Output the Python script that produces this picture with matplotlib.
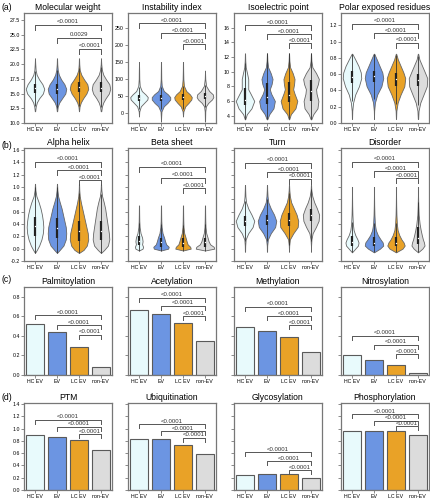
import numpy as np
import matplotlib
matplotlib.use("Agg")
import matplotlib.pyplot as plt
from matplotlib.ticker import FormatStrFormatter

plt.rcParams["font.family"] = ["Liberation Sans", "DejaVu Sans"]
plt.rcParams["axes.unicode_minus"] = False

groups = ["HC EV", "EV", "LC EV", "non-EV"]
colors = ["#E8FAFC", "#6C95E2", "#E9A227", "#DCDCDC"]

# =========================================================
# (a) violin profiles: y levels + relative half widths
# =========================================================
mw_y = [12.0, 12.8, 13.5, 14.2, 15.0, 15.8, 16.6, 17.4, 18.2, 19.0, 20.0, 21.0]
mw_w = [
    [0.02, 0.08, 0.2, 0.45, 0.85, 1.0, 0.8, 0.45, 0.18, 0.07, 0.03, 0.0],
    [0.02, 0.08, 0.25, 0.55, 0.9, 1.0, 0.8, 0.45, 0.2, 0.08, 0.03, 0.01],
    [0.01, 0.06, 0.2, 0.45, 0.8, 1.0, 0.9, 0.55, 0.25, 0.08, 0.03, 0.01],
    [0.03, 0.1, 0.25, 0.5, 0.85, 1.0, 0.9, 0.55, 0.25, 0.1, 0.03, 0.0],
]
mw_box = [(15.1, 15.9, 16.6), (15.0, 15.8, 16.6), (15.3, 16.1, 16.9), (15.2, 16.0, 16.9)]

ii_y = [-25, -10, 5, 20, 30, 40, 47, 55, 65, 80, 100, 125, 150]
ii_w = [
    [0.0, 0.0, 0.03, 0.2, 0.55, 0.9, 0.95, 0.7, 0.3, 0.08, 0.03, 0.02, 0.0],
    [0.0, 0.02, 0.05, 0.3, 0.7, 1.0, 1.0, 0.75, 0.3, 0.08, 0.03, 0.02, 0.01],
    [0.0, 0.0, 0.04, 0.25, 0.6, 0.9, 0.95, 0.75, 0.35, 0.1, 0.04, 0.02, 0.01],
    [0.01, 0.02, 0.03, 0.1, 0.35, 0.75, 0.9, 0.85, 0.45, 0.12, 0.03, 0.0, 0.0],
]
ii_box = [(36, 44, 52), (37, 45, 53), (38, 46, 55), (42, 50, 58)]

pi_y = [3.5, 4.2, 5.0, 6.0, 7.0, 7.6, 8.3, 9.0, 9.8, 10.6, 11.5, 12.5]
pi_w = [
    [0.02, 0.2, 0.7, 1.0, 0.6, 0.35, 0.35, 0.35, 0.22, 0.08, 0.03, 0.01],
    [0.03, 0.25, 0.7, 0.85, 0.45, 0.3, 0.5, 0.6, 0.4, 0.12, 0.04, 0.01],
    [0.02, 0.2, 0.7, 0.9, 0.6, 0.45, 0.55, 0.6, 0.4, 0.12, 0.04, 0.01],
    [0.03, 0.25, 0.7, 0.8, 0.6, 0.55, 0.75, 0.85, 0.55, 0.15, 0.04, 0.01],
]
pi_box = [(5.5, 6.2, 7.8), (5.6, 6.5, 8.4), (5.8, 6.8, 8.6), (6.0, 7.4, 8.8)]

pe_y = [0.05, 0.15, 0.25, 0.35, 0.45, 0.55, 0.62, 0.7, 0.78, 0.85]
pe_w = [
    [0.01, 0.03, 0.12, 0.35, 0.75, 1.0, 0.95, 0.7, 0.35, 0.03],
    [0.0, 0.02, 0.1, 0.35, 0.8, 1.0, 0.9, 0.6, 0.3, 0.03],
    [0.01, 0.04, 0.18, 0.5, 0.9, 1.0, 0.8, 0.5, 0.2, 0.02],
    [0.02, 0.06, 0.25, 0.6, 0.95, 1.0, 0.75, 0.45, 0.15, 0.02],
]
pe_box = [(0.49, 0.57, 0.64), (0.50, 0.58, 0.64), (0.46, 0.54, 0.61), (0.45, 0.53, 0.60)]

# =========================================================
# (b) secondary structure
# =========================================================
ah_y = [-0.07, -0.02, 0.05, 0.15, 0.25, 0.35, 0.45, 0.55, 0.65, 0.75, 0.85, 0.95, 1.05]
ah_w = [
    [0.0, 0.2, 0.45, 0.7, 0.85, 0.9, 0.85, 0.75, 0.6, 0.4, 0.15, 0.04, 0.01],
    [0.0, 0.3, 0.7, 0.95, 1.0, 0.95, 0.8, 0.65, 0.5, 0.3, 0.12, 0.04, 0.01],
    [0.0, 0.5, 0.85, 1.0, 0.95, 0.8, 0.65, 0.5, 0.35, 0.2, 0.08, 0.03, 0.01],
    [0.0, 0.35, 0.75, 0.9, 0.85, 0.75, 0.65, 0.55, 0.45, 0.3, 0.12, 0.04, 0.01],
]
ah_box = [(0.20, 0.36, 0.52), (0.17, 0.33, 0.50), (0.13, 0.28, 0.44), (0.14, 0.28, 0.44)]

bs_y = [-0.03, 0.0, 0.03, 0.07, 0.12, 0.18, 0.25, 0.35, 0.45, 0.55, 0.7]
bs_w = [
    [0.0, 0.35, 0.4, 0.3, 0.35, 0.3, 0.15, 0.06, 0.03, 0.02, 0.01],
    [0.0, 0.7, 0.75, 0.5, 0.4, 0.3, 0.15, 0.06, 0.03, 0.02, 0.01],
    [0.0, 0.75, 0.7, 0.45, 0.35, 0.25, 0.12, 0.05, 0.03, 0.02, 0.01],
    [0.0, 0.9, 0.85, 0.5, 0.35, 0.25, 0.12, 0.05, 0.03, 0.02, 0.01],
]
bs_box = [(0.06, 0.13, 0.20), (0.03, 0.10, 0.18), (0.03, 0.09, 0.17), (0.03, 0.10, 0.18)]

tu_y = [-0.05, 0.05, 0.15, 0.25, 0.35, 0.45, 0.55, 0.65, 0.75, 0.85, 0.95, 1.03]
tu_w = [
    [0.01, 0.02, 0.06, 0.3, 0.7, 0.85, 0.6, 0.3, 0.1, 0.04, 0.02, 0.01],
    [0.01, 0.02, 0.08, 0.35, 0.75, 0.85, 0.65, 0.35, 0.12, 0.05, 0.02, 0.01],
    [0.0, 0.02, 0.08, 0.4, 0.8, 0.85, 0.7, 0.45, 0.2, 0.08, 0.03, 0.01],
    [0.0, 0.01, 0.04, 0.15, 0.45, 0.7, 0.75, 0.55, 0.3, 0.12, 0.03, 0.01],
]
tu_box = [(0.37, 0.45, 0.53), (0.38, 0.46, 0.55), (0.37, 0.47, 0.58), (0.44, 0.54, 0.65)]

di_y = [-0.06, 0.0, 0.05, 0.1, 0.15, 0.22, 0.3, 0.4, 0.55, 0.7, 0.85, 1.0]
di_w = [
    [0.0, 0.3, 0.55, 0.6, 0.5, 0.3, 0.15, 0.08, 0.04, 0.02, 0.01, 0.01],
    [0.0, 0.55, 0.85, 0.8, 0.6, 0.35, 0.17, 0.08, 0.04, 0.02, 0.01, 0.01],
    [0.0, 0.6, 0.8, 0.7, 0.5, 0.3, 0.15, 0.08, 0.04, 0.02, 0.01, 0.01],
    [0.0, 0.4, 0.6, 0.55, 0.45, 0.35, 0.25, 0.15, 0.06, 0.03, 0.01, 0.01],
]
di_box = [(0.05, 0.10, 0.20), (0.04, 0.09, 0.19), (0.04, 0.09, 0.19), (0.08, 0.18, 0.35)]

# =========================================================
# (c), (d) bar values
# =========================================================
palmitoylation = [0.52, 0.44, 0.29, 0.08]
acetylation = [0.66, 0.62, 0.535, 0.345]
methylation = [0.487, 0.45, 0.39, 0.24]
nitrosylation = [0.20, 0.155, 0.10, 0.025]
ptm = [0.905, 0.86, 0.81, 0.65]
ubiquitination = [0.84, 0.835, 0.73, 0.58]
glycosylation = [0.25, 0.26, 0.265, 0.20]
phosphorylation = [0.965, 0.97, 0.955, 0.905]

# significance brackets (heights, labels), comparisons vs non-EV
pairs = [(0, 3), (1, 3), (2, 3)]
p_all = ["<0.0001", "<0.0001", "<0.0001"]
p_mw = ["<0.0001", "0.0029", "<0.0001"]

br_mw = [26.7, 24.5, 22.6]
br_ii = [264, 234, 202]
br_pi = [16.35, 15.1, 13.9]
br_pe = [1.215, 1.10, 0.985]
br_ah = [1.41, 1.27, 1.11]
br_bs = [1.33, 1.145, 0.98]
br_tu = [1.39, 1.24, 1.13]
br_di = [1.41, 1.25, 1.14]
br_pa = [0.61, 0.51, 0.41]
br_ac = [0.79, 0.71, 0.60]
br_me = [0.70, 0.60, 0.51]
br_ni = [0.40, 0.31, 0.21]
br_ptm = [1.145, 1.03, 0.91]
br_ub = [1.07, 0.96, 0.85]
br_gl = [0.62, 0.47, 0.32]
br_ph = [1.24, 1.13, 1.04]

# =========================================================
# Layout (pixels in a 431 x 500 figure)
# =========================================================
W, H = 431, 500
col_left = [24, 128, 234, 341]
col_w = 88
rows = [(13, 123), (148, 261), (287, 375), (403, 490)]
edge = "#777777"
ink = "#555555"

fig = plt.figure(figsize=(W / 100, H / 100), dpi=100)


def make_ax(r, c):
    top, bot = rows[r]
    ax = fig.add_axes([col_left[c] / W, 1 - bot / H, col_w / W, (bot - top) / H])
    for s in ax.spines.values():
        s.set_color(edge)
        s.set_linewidth(0.9)
    ax.tick_params(length=2, width=0.6, color=edge, labelsize=3.8, pad=1)
    ax.set_xlim(-0.5, 3.5)
    ax.set_xticks(range(4))
    ax.set_xticklabels(groups)
    return ax


def brackets(ax, heights, labels):
    y0, y1 = ax.get_ylim()
    drop = 0.045 * (y1 - y0)
    for (a, b), h, lab in zip(pairs, heights, labels):
        ax.plot([a, a, b, b], [h - drop, h, h, h - drop], color=ink, lw=0.7)
        ax.text((a + b) / 2, h + 0.005 * (y1 - y0), lab, ha="center", va="bottom",
                fontsize=4.3, color="#333333")


def violins(ax, ys, ws, boxes):
    ys = np.asarray(ys, float)
    top = max(max(w) for w in ws)
    stats, widths = [], []
    for w in ws:
        w = np.asarray(w, float)
        nz = np.nonzero(w)[0]
        i0, i1 = max(nz[0] - 1, 0), min(nz[-1] + 1, len(w) - 1)
        stats.append(dict(coords=ys[i0:i1 + 1], vals=w[i0:i1 + 1], mean=0, median=0,
                          min=ys[i0], max=ys[i1]))
        widths.append(0.84 * w.max() / top)
    parts = ax.violin(stats, positions=range(4), widths=widths,
                      showmeans=False, showextrema=False, showmedians=False)
    for body, col in zip(parts["bodies"], colors):
        body.set_facecolor(col)
        body.set_edgecolor("#666666")
        body.set_linewidth(0.6)
        body.set_alpha(1)
    for i, ((q1, med, q3), st) in enumerate(zip(boxes, stats)):
        iqr = q3 - q1
        lo = max(st["min"], q1 - 1.5 * iqr)
        hi = min(st["max"], q3 + 1.5 * iqr)
        ax.plot([i, i], [lo, hi], color="#333333", lw=0.6, solid_capstyle="butt")
        ax.plot([i, i], [q1, q3], color="#222222", lw=1.6, solid_capstyle="butt")
        ax.plot(i, med, "o", ms=1.0, color="white", mec="none")


def bars(ax, vals):
    ax.bar(range(4), vals, width=0.82, color=colors, edgecolor="#5a5a5a", linewidth=0.8)


# row (a)
row_a = [
    ("Molecular weight", mw_y, mw_w, mw_box, br_mw, p_mw, (10, 28.7), np.arange(10, 28, 2.5), "%.1f"),
    ("Instability index", ii_y, ii_w, ii_box, br_ii, p_all, (-29, 294), np.arange(0, 251, 50), "%d"),
    ("Isoelectric point", pi_y, pi_w, pi_box, br_pi, p_all, (3, 18), np.arange(4, 17, 2), "%d"),
    ("Polar exposed residues", pe_y, pe_w, pe_box, br_pe, p_all, (0, 1.35), np.arange(0, 1.25, 0.2), "%.1f"),
]
for c, (title, ys, ws, bx, br, labs, lim, ticks, fmt) in enumerate(row_a):
    ax = make_ax(0, c)
    ax.set_ylim(*lim)
    ax.set_yticks(ticks)
    ax.yaxis.set_major_formatter(FormatStrFormatter(fmt))
    violins(ax, ys, ws, bx)
    brackets(ax, br, labs)
    ax.set_title(title, fontsize=6.2, pad=2.5)

# row (b)
row_b = [
    ("Alpha helix", ah_y, ah_w, ah_box, br_ah),
    ("Beta sheet", bs_y, bs_w, bs_box, br_bs),
    ("Turn", tu_y, tu_w, tu_box, br_tu),
    ("Disorder", di_y, di_w, di_box, br_di),
]
for c, (title, ys, ws, bx, br) in enumerate(row_b):
    ax = make_ax(1, c)
    ax.set_ylim(-0.2, 1.63)
    ax.set_yticks(np.arange(-0.2, 1.61, 0.2))
    ax.yaxis.set_major_formatter(FormatStrFormatter("%.1f"))
    if c > 0:
        ax.tick_params(labelleft=False)
    violins(ax, ys, ws, bx)
    brackets(ax, br, p_all)
    ax.set_title(title, fontsize=6.2, pad=2.5)

# rows (c) and (d)
row_c = [("Palmitoylation", palmitoylation, br_pa), ("Acetylation", acetylation, br_ac),
         ("Methylation", methylation, br_me), ("Nitrosylation", nitrosylation, br_ni)]
row_d = [("PTM", ptm, br_ptm), ("Ubiquitination", ubiquitination, br_ub),
         ("Glycosylation", glycosylation, br_gl), ("Phosphorylation", phosphorylation, br_ph)]
for r, row, lim, ticks in [(2, row_c, (0, 0.9), np.arange(0, 0.81, 0.2)),
                           (3, row_d, (0, 1.42), np.arange(0, 1.41, 0.2))]:
    for c, (title, vals, br) in enumerate(row):
        ax = make_ax(r, c)
        ax.set_ylim(*lim)
        ax.set_yticks(ticks)
        ax.yaxis.set_major_formatter(FormatStrFormatter("%.1f"))
        if c > 0:
            ax.tick_params(labelleft=False)
        bars(ax, vals)
        brackets(ax, br, p_all)
        ax.set_title(title, fontsize=6.2, pad=2.5)

# panel letters
for lab, ypx in [("(a)", 8), ("(b)", 145), ("(c)", 279), ("(d)", 397)]:
    fig.text(2 / W, 1 - ypx / H, lab, fontsize=6.2, va="center", ha="left")

fig.savefig("out.png", dpi=100)
